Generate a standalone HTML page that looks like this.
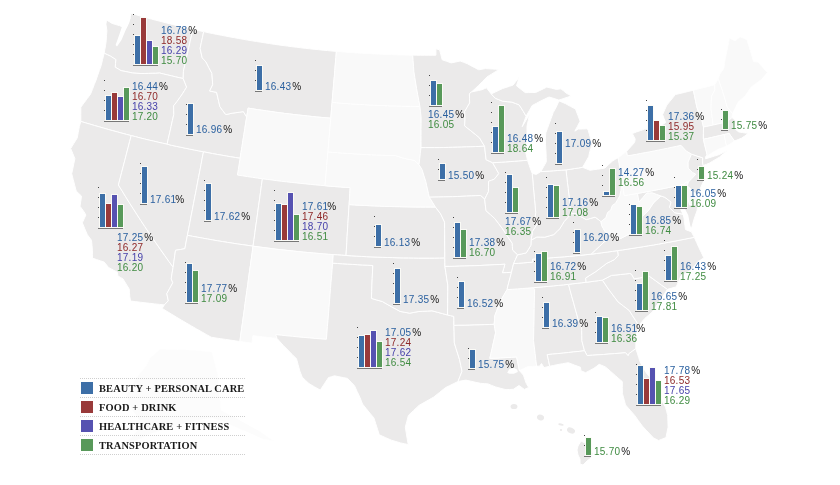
<!DOCTYPE html>
<html><head><meta charset="utf-8"><title>US map</title>
<style>
html,body{margin:0;padding:0;background:#fff;}
body{width:840px;height:485px;position:relative;overflow:hidden;}
svg{position:absolute;left:0;top:0;}
#map path{stroke:#ffffff;stroke-width:1.0;stroke-linejoin:round;}
#charts text{font-family:"Liberation Sans",Arial,sans-serif;font-size:10px;letter-spacing:0.25px;}
#charts .p{letter-spacing:0;font-size:10px;}
#charts text.lg{font-family:"Liberation Serif","Times New Roman",serif;font-weight:bold;font-size:10.4px;letter-spacing:0.15px;fill:#1a1a1a;}
</style></head><body>
<svg id="map" width="840" height="485" viewBox="0 0 840 485">
<path d="M150,358L160,349L195,350L212,352L218,375L221,410L240,420L258,430L274,441L262,439L244,431L226,423L212,418L195,421L172,427L150,434L128,445L112,452L132,437L142,424L132,410L126,395L136,378L146,366Z" fill="#fcfcfc"/>
<path d="M130.9,13.3L135,14.5L139.1,15.7L143.3,16.8L147.4,18L151.5,19.1L155.6,20.2L159.8,21.2L163.9,22.3L168,23.3L172.2,24.4L176.3,25.4L180.5,26.4L184.6,27.4L188.8,28.3L192.9,29.3L191.6,35.2L190.2,41.2L188.9,47.2L187.5,53.2L186.1,59.2L184.8,65.2L183.4,71.2L183.3,74.9L183.2,78.5L179.3,77.7L175.3,76.8L171.4,75.8L167.5,74.9L163.6,74L159.7,73L155.7,73.3L152.1,73.3L148.4,73.4L144.8,73.5L141.1,73.5L136.9,73.3L132.7,73L128.9,72.2L125,71.4L121.1,70.7L118.2,68.9L115.2,67.2L115.5,63.4L115.8,59.5L113.2,57.9L110.6,56.2L107.4,54.7L104.2,53.2L104.8,49.6L105.5,45.9L106.2,40.8L106.5,35.7L106.9,30.6L105.9,24.1L106.6,20L109.3,21.7L112.1,23.4L115.9,24.6L119.7,25.7L122.8,27.1L126,28.4L128.7,23.1L129.8,18.2L130.9,13.3Z" fill="#ebeaea"/>
<path d="M183.2,78.5L179.3,77.7L175.3,76.8L171.4,75.8L167.5,74.9L163.6,74L159.7,73L155.7,73.3L152.1,73.3L148.4,73.4L144.8,73.5L141.1,73.5L136.9,73.3L132.7,73L128.9,72.2L125,71.4L121.1,70.7L118.2,68.9L115.2,67.2L115.5,63.4L115.8,59.5L113.2,57.9L110.6,56.2L107.4,54.7L104.2,53.2L102.6,59.4L101.1,65.7L99.4,70.4L97.7,75.2L96.1,80L94.2,84.7L92.4,89.5L90.5,94.2L87.3,98.5L84,102.9L80.8,107.2L80.8,114.3L80.8,121.4L85.4,122.8L89.9,124.1L94.5,125.5L99.1,126.8L103.6,128.1L108.2,129.4L112.8,130.7L117.4,131.9L122,133.2L126.6,134.4L131.2,135.6L135.7,136.7L140.1,137.9L144.6,139L149.1,140.1L153.6,141.1L158.1,142.2L162.6,143.2L167.1,144.2L168.4,138.3L169.8,132.3L171.1,126.4L172.4,120.4L173.8,114.5L173.7,110.1L173.6,105.8L177.1,101.4L179.8,97.6L182.4,93.9L184.5,90.5L186.6,87.1L184.9,82.8L183.2,78.5Z" fill="#ebeaea"/>
<path d="M80.8,121.4L85.4,122.8L89.9,124.1L94.5,125.5L99.1,126.8L103.6,128.1L108.2,129.4L112.8,130.7L117.4,131.9L122,133.2L126.6,134.4L131.2,135.6L129.6,141.7L128,147.9L126.4,154.1L124.8,160.3L123.2,166.4L121.6,172.6L120,178.8L118.4,185L122.1,190.9L125.7,196.8L129.4,202.8L133.2,208.7L137,214.6L140.8,220.5L144.7,226.4L148.6,232.2L152.6,238.1L156.6,243.9L160.7,249.8L164.8,255.6L168.9,261.4L173.1,267.2L172.1,273.1L171.2,278.9L172.8,282.7L169.8,288.2L166.8,293.6L168.3,300.8L164.3,304.9L159.5,304.4L154.7,303.9L149.8,303.3L145,302.8L140.2,302.2L135.3,301.6L130.5,301L129.7,296.1L129.5,292.6L129.2,289L126.1,284L123,278.9L120.4,277.4L117.9,275.9L117.4,272.3L113,269.9L108.6,267.5L104.2,262.1L100.3,260.8L96.4,259.5L92.4,258.1L92.4,254.2L92.4,250.2L92,245.3L91.5,240.3L87.4,234.8L84.8,228.8L82.3,222.8L84.1,218.9L85.9,215L84,211.8L82,209L80,206.2L80.8,201.2L81.5,196.1L78.8,193.5L76.2,191L74.7,185.2L73.2,179.5L71.7,173.7L72.8,168.7L73.8,163.7L74.9,158.7L72.8,153.6L70.7,148.5L73.9,143.3L77.2,138L78.3,132.2L79.4,126.3L80.8,121.4Z" fill="#ebeaea"/>
<path d="M131.2,135.6L135.7,136.7L140.1,137.9L144.6,139L149.1,140.1L153.6,141.1L158.1,142.2L162.6,143.2L167.1,144.2L171.6,145.3L176.2,146.3L180.7,147.2L185.2,148.2L189.8,149.1L194.4,150L198.9,150.9L203.5,151.8L202.2,158.2L201,164.7L199.8,171.1L198.5,177.5L197.3,183.9L196.1,190.3L194.8,196.8L193.6,203.2L192.4,209.6L191.1,216L189.9,222.5L188.7,228.9L187.4,235.3L186.1,242L184.9,248.7L180.2,249.5L175.5,250.3L174.7,255.9L173.9,261.6L173.1,267.2L168.9,261.4L164.8,255.6L160.7,249.8L156.6,243.9L152.6,238.1L148.6,232.2L144.7,226.4L140.8,220.5L137,214.6L133.2,208.7L129.4,202.8L125.7,196.8L122.1,190.9L118.4,185L120,178.8L121.6,172.6L123.2,166.4L124.8,160.3L126.4,154.1L128,147.9L129.6,141.7L131.2,135.6Z" fill="#ebeaea"/>
<path d="M192.9,29.3L196.5,30.1L200.1,30.9L203.7,31.6L202.5,37.2L201.3,42.7L200.1,48.3L201.1,53L202.2,57.8L204.1,59.9L206,62L208.9,67.7L211.9,73.4L212.3,79.1L212.7,84.7L209.6,91L213.1,91.7L216.6,92.3L217.7,97.1L218.8,101.9L219.9,106.7L222.8,110.7L225.8,114.6L229,113.9L232.1,113.2L235.9,112.7L239.6,112.2L243.3,111.6L246.7,117L245.7,122.9L244.8,128.7L243.9,134.6L242.9,140.5L242,146.5L241,152.4L240.1,158.3L235.5,157.5L230.9,156.8L226.3,156L221.8,155.2L217.2,154.4L212.6,153.6L208,152.7L203.5,151.8L198.9,150.9L194.4,150L189.8,149.1L185.2,148.2L180.7,147.2L176.2,146.3L171.6,145.3L167.1,144.2L168.4,138.3L169.8,132.3L171.1,126.4L172.4,120.4L173.8,114.5L173.7,110.1L173.6,105.8L177.1,101.4L179.8,97.6L182.4,93.9L184.5,90.5L186.6,87.1L184.9,82.8L183.2,78.5L183.3,74.9L183.4,71.2L184.8,65.2L186.1,59.2L187.5,53.2L188.9,47.2L190.2,41.2L191.6,35.2L192.9,29.3Z" fill="#ebeaea"/>
<path d="M203.7,31.6L208,32.6L212.4,33.5L216.8,34.4L221.2,35.2L225.6,36.1L230,36.9L234.4,37.7L238.8,38.5L243.2,39.3L247.6,40.1L252,40.8L256.5,41.5L260.9,42.2L265.3,42.9L269.7,43.6L274.2,44.3L278.6,44.9L283,45.5L287.5,46.1L291.9,46.7L296.4,47.2L300.8,47.8L305.2,48.3L309.7,48.8L314.1,49.3L318.6,49.7L323.1,50.2L327.5,50.6L332,51L336.4,51.4L335.9,57.7L335.3,64.1L334.8,70.5L334.3,76.8L333.7,83.2L333.2,89.6L332.6,96L332.1,102.4L331.6,107.7L331.2,113L330.8,118.2L326.1,117.8L321.5,117.4L316.9,117L312.3,116.5L307.7,116L303.1,115.5L298.5,115L293.9,114.5L289.3,113.9L284.7,113.4L280.1,112.8L275.6,112.2L271,111.5L266.4,110.9L261.8,110.2L257.2,109.6L252.7,108.8L248.1,108.1L247.4,112.5L246.7,117L243.3,111.6L239.6,112.2L235.9,112.7L232.1,113.2L229,113.9L225.8,114.6L222.8,110.7L219.9,106.7L218.8,101.9L217.7,97.1L216.6,92.3L213.1,91.7L209.6,91L212.7,84.7L212.3,79.1L211.9,73.4L208.9,67.7L206,62L204.1,59.9L202.2,57.8L201.1,53L200.1,48.3L201.3,42.7L202.5,37.2L203.7,31.6Z" fill="#ebeaea"/>
<path d="M246.7,117L247.4,112.5L248.1,108.1L252.7,108.8L257.2,109.6L261.8,110.2L266.4,110.9L271,111.5L275.6,112.2L280.1,112.8L284.7,113.4L289.3,113.9L293.9,114.5L298.5,115L303.1,115.5L307.7,116L312.3,116.5L316.9,117L321.5,117.4L326.1,117.8L330.8,118.2L330.2,125L329.6,131.7L329,138.4L328.5,145.2L327.9,151.9L327.3,158.7L326.7,165.4L326.2,172.2L325.6,179L325,185.7L320.2,185.3L315.4,184.9L310.5,184.4L305.7,183.9L300.9,183.4L296.1,182.9L291.2,182.4L286.4,181.8L281.6,181.3L276.8,180.7L272,180L267.2,179.4L262.4,178.8L257.4,178.1L252.4,177.3L247.4,176.6L242.4,175.8L237.4,175L238.3,169.5L239.2,163.9L240.1,158.3L241,152.4L242,146.5L242.9,140.5L243.9,134.6L244.8,128.7L245.7,122.9L246.7,117Z" fill="#f9f9f9"/>
<path d="M240.1,158.3L235.5,157.5L230.9,156.8L226.3,156L221.8,155.2L217.2,154.4L212.6,153.6L208,152.7L203.5,151.8L202.2,158.2L201,164.7L199.8,171.1L198.5,177.5L197.3,183.9L196.1,190.3L194.8,196.8L193.6,203.2L192.4,209.6L191.1,216L189.9,222.5L188.7,228.9L187.4,235.3L192.5,236.3L197.5,237.2L202.5,238.1L207.6,239L212.6,239.9L217.6,240.8L222.7,241.6L227.7,242.4L232.8,243.2L237.9,244L242.9,244.7L248,245.4L253,246.2L254,239.4L254.9,232.7L255.8,225.9L256.8,219.2L257.7,212.4L258.6,205.7L259.6,199L260.5,192.2L261.4,185.5L262.4,178.8L257.4,178.1L252.4,177.3L247.4,176.6L242.4,175.8L237.4,175L238.3,169.5L239.2,163.9L240.1,158.3Z" fill="#ebeaea"/>
<path d="M325,185.7L320.2,185.3L315.4,184.9L310.5,184.4L305.7,183.9L300.9,183.4L296.1,182.9L291.2,182.4L286.4,181.8L281.6,181.3L276.8,180.7L272,180L267.2,179.4L262.4,178.8L261.4,185.5L260.5,192.2L259.6,199L258.6,205.7L257.7,212.4L256.8,219.2L255.8,225.9L254.9,232.7L254,239.4L253,246.2L258,246.8L263,247.5L268,248.1L273,248.8L278,249.4L283,249.9L288.1,250.5L293.1,251L298.1,251.6L303.1,252.1L308.1,252.5L313.1,253L318.1,253.4L323.2,253.9L328.2,254.3L333.2,254.6L337.5,254.9L341.7,255.2L346,255.5L346.4,249.2L346.8,242.8L347.1,236.4L347.5,230L347.9,223.7L348.3,217.3L348.7,210.9L349.1,204.6L349.5,198.9L349.8,193.3L350.2,187.6L345.1,187.3L340.1,186.9L335.1,186.6L330.1,186.2L325,185.7Z" fill="#ebeaea"/>
<path d="M187.4,235.3L192.5,236.3L197.5,237.2L202.5,238.1L207.6,239L212.6,239.9L217.6,240.8L222.7,241.6L227.7,242.4L232.8,243.2L237.9,244L242.9,244.7L248,245.4L253,246.2L252.2,252.5L251.3,258.9L250.4,265.3L249.5,271.6L248.6,278L247.8,284.4L246.9,290.7L246,297.1L245.1,303.4L244.3,309.8L243.4,316.1L242.5,322.5L241.6,328.8L240.7,335.2L239.9,341.5L235.1,340.8L230.3,340.1L225.5,339.4L220.8,338.7L216,338L211.2,337.2L206.2,334.4L201.3,331.6L196.3,328.8L191.4,325.9L186.5,323.1L181.6,320.2L176.7,317.3L171.8,314.3L167,311.4L162.2,308.4L164.3,304.9L168.3,300.8L166.8,293.6L169.8,288.2L172.8,282.7L171.2,278.9L172.1,273.1L173.1,267.2L173.9,261.6L174.7,255.9L175.5,250.3L180.2,249.5L184.9,248.7L186.1,242L187.4,235.3Z" fill="#ebeaea"/>
<path d="M253,246.2L258,246.8L263,247.5L268,248.1L273,248.8L278,249.4L283,249.9L288.1,250.5L293.1,251L298.1,251.6L303.1,252.1L308.1,252.5L313.1,253L318.1,253.4L323.2,253.9L328.2,254.3L333.2,254.6L332.9,258.9L332.6,263.1L332.1,269.5L331.6,275.8L331,282.2L330.5,288.5L330,294.9L329.5,301.2L329,307.6L328.5,313.9L328,320.3L327.4,326.6L326.9,333L326.4,339.3L320.8,338.9L315.1,338.4L309.5,337.9L303.9,337.4L298.2,336.9L292.6,336.3L287,335.8L281.3,335.2L275.7,334.6L277,338.4L272.2,337.9L267.4,337.3L262.5,336.8L257.7,336.2L252.9,335.6L252.4,339.3L252,343.1L247.9,342.6L243.9,342L239.9,341.5L240.7,335.2L241.6,328.8L242.5,322.5L243.4,316.1L244.3,309.8L245.1,303.4L246,297.1L246.9,290.7L247.8,284.4L248.6,278L249.5,271.6L250.4,265.3L251.3,258.9L252.2,252.5L253,246.2Z" fill="#f9f9f9"/>
<path d="M332.6,263.1L332.1,269.5L331.6,275.8L331,282.2L330.5,288.5L330,294.9L329.5,301.2L329,307.6L328.5,313.9L328,320.3L327.4,326.6L326.9,333L326.4,339.3L320.8,338.9L315.1,338.4L309.5,337.9L303.9,337.4L298.2,336.9L292.6,336.3L287,335.8L281.3,335.2L275.7,334.6L277,338.4L280.2,342L283.4,345.6L287.8,350L292.1,354.4L296.5,358.8L298.2,364.9L299.8,371L302.2,377.1L305.6,380.4L309,383.6L314.6,386.9L320.3,390.1L324.4,383.8L328.5,377.6L331.5,376.7L334.5,375.8L338.9,376.7L343.2,377.6L347.5,378.4L351,382.1L354.5,385.7L357.1,391.4L359.8,397.1L362.5,404L366.2,408.6L370,413.3L373.9,417.9L375.7,423.5L377.5,429.2L379.3,434.8L385.3,437.5L391.4,440.2L395.9,441.5L400.5,442.9L404.7,443.8L408.8,444.7L408.1,443.8L407.1,438.2L406.2,432.7L405.3,427.1L406.9,421.2L408.4,415.4L413.7,410.4L419,405.4L424,402.6L428.9,399.8L433.8,397L439.7,392.3L445.5,387.6L449.7,385.6L453.9,383.5L458,381.5L460,376.4L462,371.3L460.8,365.4L459.5,359.5L457.8,354L456,348.4L454.3,342.9L454.2,337.1L454.1,331.2L453.9,325.4L453.9,320.9L453.8,316.4L450.7,315.7L447.6,315L442.4,313.6L437.2,312.2L432,310.8L427.4,311.1L422.7,311.3L418.1,311.6L413.9,312.4L409.7,313.2L404.9,312.3L400,311.4L395.9,309.1L391.8,306.9L387,304.2L382.3,301.5L376.8,300L371.4,298.4L371.7,291.8L371.9,285.2L372.2,278.6L372.5,272L372.8,265.5L367.7,265.2L362.7,265L357.7,264.7L352.7,264.4L347.7,264.1L342.6,263.8L337.6,263.5L332.6,263.1Z" fill="#ebeaea"/>
<path d="M333.2,254.6L337.5,254.9L341.7,255.2L346,255.5L351.2,255.8L356.4,256.1L361.6,256.4L366.8,256.7L372,256.9L377.2,257.1L382.4,257.3L387.6,257.5L392.8,257.6L398,257.8L403.2,257.9L408.4,257.9L413.6,258L418.8,258.1L424,258.1L429.2,258.1L434.4,258.1L439.6,258L444.8,257.9L444.9,262.2L444.9,266.4L445.9,272.7L446.8,278.9L447.8,285.1L447.8,291.1L447.7,297.1L447.7,303.1L447.6,309L447.6,315L442.4,313.6L437.2,312.2L432,310.8L427.4,311.1L422.7,311.3L418.1,311.6L413.9,312.4L409.7,313.2L404.9,312.3L400,311.4L395.9,309.1L391.8,306.9L387,304.2L382.3,301.5L376.8,300L371.4,298.4L371.7,291.8L371.9,285.2L372.2,278.6L372.5,272L372.8,265.5L367.7,265.2L362.7,265L357.7,264.7L352.7,264.4L347.7,264.1L342.6,263.8L337.6,263.5L332.6,263.1L332.9,258.9L333.2,254.6Z" fill="#ebeaea"/>
<path d="M435.4,207L430.3,207L425.2,207L420.1,207L415.1,207L410,206.9L404.9,206.8L399.8,206.7L394.8,206.6L389.7,206.5L384.6,206.3L379.5,206.1L374.5,205.9L369.4,205.7L364.3,205.4L359.2,205.2L354.2,204.9L349.1,204.6L348.7,210.9L348.3,217.3L347.9,223.7L347.5,230L347.1,236.4L346.8,242.8L346.4,249.2L346,255.5L351.2,255.8L356.4,256.1L361.6,256.4L366.8,256.7L372,256.9L377.2,257.1L382.4,257.3L387.6,257.5L392.8,257.6L398,257.8L403.2,257.9L408.4,257.9L413.6,258L418.8,258.1L424,258.1L429.2,258.1L434.4,258.1L439.6,258L444.8,257.9L444.8,252L444.7,246L444.7,240.1L444.7,234.1L444.6,228.2L444.6,222.2L442.6,218L440.6,213.8L435.4,207Z" fill="#ebeaea"/>
<path d="M327.9,151.9L332.7,152.3L337.6,152.7L342.4,153.1L347.3,153.4L352.1,153.7L357,154L361.8,154.3L366.7,154.6L371.5,154.8L376.4,155L381.2,155.2L386.1,155.4L390.9,155.6L395.8,155.7L400.1,157.1L404.3,158.4L409.2,159.4L414.1,160.3L416.6,162.4L419,164.6L422.1,169.7L423.9,175.6L425.8,181.5L426.7,185.8L427.7,190L428.5,193.6L429.3,197.2L432.4,202.1L435.4,207L430.3,207L425.2,207L420.1,207L415.1,207L410,206.9L404.9,206.8L399.8,206.7L394.8,206.6L389.7,206.5L384.6,206.3L379.5,206.1L374.5,205.9L369.4,205.7L364.3,205.4L359.2,205.2L354.2,204.9L349.1,204.6L349.5,198.9L349.8,193.3L350.2,187.6L345.1,187.3L340.1,186.9L335.1,186.6L330.1,186.2L325,185.7L325.6,179L326.2,172.2L326.7,165.4L327.3,158.7L327.9,151.9Z" fill="#f9f9f9"/>
<path d="M332.1,102.4L336.7,102.8L341.3,103.2L345.9,103.5L350.5,103.9L355.2,104.2L359.8,104.4L364.4,104.7L369,105L373.6,105.2L378.2,105.4L382.9,105.6L387.5,105.8L392.1,105.9L396.7,106L401.4,106.2L406,106.3L410.6,106.3L415.2,106.4L419.9,106.4L420.5,111.8L421.1,117.2L421.1,123.3L421,129.4L421,135.4L421,141.5L421,147.6L420.3,153.3L419.7,158.9L419,164.6L416.6,162.4L414.1,160.3L409.2,159.4L404.3,158.4L400.1,157.1L395.8,155.7L390.9,155.6L386.1,155.4L381.2,155.2L376.4,155L371.5,154.8L366.7,154.6L361.8,154.3L357,154L352.1,153.7L347.3,153.4L342.4,153.1L337.6,152.7L332.7,152.3L327.9,151.9L328.5,145.2L329,138.4L329.6,131.7L330.2,125L330.8,118.2L331.2,113L331.6,107.7L332.1,102.4Z" fill="#f9f9f9"/>
<path d="M336.4,51.4L340.7,51.7L344.9,52.1L349.1,52.4L353.3,52.7L357.6,53L361.8,53.2L366,53.5L370.3,53.7L374.5,53.9L378.7,54.1L383,54.3L387.2,54.5L391.5,54.6L395.7,54.8L399.9,54.9L404.2,55L408.4,55.1L412.7,55.1L413.1,60.7L413.5,66.2L413.9,71.8L414.8,77.4L415.7,83L416.6,88.6L417.7,94.5L418.8,100.5L419.9,106.4L415.2,106.4L410.6,106.3L406,106.3L401.4,106.2L396.7,106L392.1,105.9L387.5,105.8L382.9,105.6L378.2,105.4L373.6,105.2L369,105L364.4,104.7L359.8,104.4L355.2,104.2L350.5,103.9L345.9,103.5L341.3,103.2L336.7,102.8L332.1,102.4L332.6,96L333.2,89.6L333.7,83.2L334.3,76.8L334.8,70.5L335.3,64.1L335.9,57.7L336.4,51.4Z" fill="#f9f9f9"/>
<path d="M412.7,55.1L416.5,55.2L420.4,55.2L424.3,55.2L428.2,55.2L432.1,55.2L435.9,55.2L435.9,48.8L439.6,49.8L440.9,54.8L442.2,59.8L446.7,61.3L451.2,62.9L455.7,62L460.2,61L463.6,62.3L467.1,63.6L470.9,65.7L474.8,67.7L478.7,69.8L482,69.2L485.4,68.6L488.9,68.8L492.3,69L495.7,69.2L499.1,69.4L495.1,71.9L491.1,74.4L487,76.9L482.7,81.3L478.3,85.7L475,88.8L471.6,91.9L469.4,93.7L469.5,98.3L469.7,102.9L467.2,107.2L464.7,111.5L464.9,115.7L465,119.9L464.6,125.9L467.7,128.3L470.8,130.7L475.2,134.3L479.6,137.9L482,142.1L484.6,146.2L480,146.4L475.5,146.6L470.9,146.8L466.4,146.9L461.9,147.1L457.3,147.2L452.8,147.3L448.2,147.4L443.7,147.5L439.1,147.6L434.6,147.6L430,147.6L425.5,147.6L421,147.6L421,141.5L421,135.4L421,129.4L421.1,123.3L421.1,117.2L420.5,111.8L419.9,106.4L418.8,100.5L417.7,94.5L416.6,88.6L415.7,83L414.8,77.4L413.9,71.8L413.5,66.2L413.1,60.7L412.7,55.1Z" fill="#ebeaea"/>
<path d="M484.6,146.2L480,146.4L475.5,146.6L470.9,146.8L466.4,146.9L461.9,147.1L457.3,147.2L452.8,147.3L448.2,147.4L443.7,147.5L439.1,147.6L434.6,147.6L430,147.6L425.5,147.6L421,147.6L420.3,153.3L419.7,158.9L419,164.6L422.1,169.7L423.9,175.6L425.8,181.5L426.7,185.8L427.7,190L428.5,193.6L429.3,197.2L434,197.1L438.7,197L443.3,196.9L448,196.8L452.6,196.7L457.3,196.5L462,196.3L466.6,196.1L471.3,195.9L475.9,195.7L480.6,195.5L484.7,199.2L486.5,195.5L488.4,191.8L488.5,186.6L488.6,181.3L491.4,180.3L494.2,179.3L498.8,173.6L495.7,168.1L492.6,162.7L489.3,161.2L486.1,159.7L485.3,152.9L484.6,146.2Z" fill="#ebeaea"/>
<path d="M429.3,197.2L434,197.1L438.7,197L443.3,196.9L448,196.8L452.6,196.7L457.3,196.5L462,196.3L466.6,196.1L471.3,195.9L475.9,195.7L480.6,195.5L484.7,199.2L485.3,204.9L486,210.7L490.5,214.7L494.9,218.7L498.5,223.4L502,228L505.4,233.1L508.8,238.2L512.2,243.2L512.4,246.6L512.6,250L517.6,254.8L515.6,259.2L513.6,263.6L512.5,267.9L511.5,272.3L506.9,272.6L502.4,272.8L503.7,268.5L504.9,264.2L499.9,264.5L494.9,264.7L489.9,265L484.9,265.2L479.9,265.5L474.9,265.7L469.9,265.8L464.9,266L459.9,266.1L454.9,266.3L449.9,266.4L444.9,266.4L444.9,262.2L444.8,257.9L444.8,252L444.7,246L444.7,240.1L444.7,234.1L444.6,228.2L444.6,222.2L442.6,218L440.6,213.8L435.4,207L432.4,202.1L429.3,197.2Z" fill="#ebeaea"/>
<path d="M511.5,272.3L506.9,272.6L502.4,272.8L503.7,268.5L504.9,264.2L499.9,264.5L494.9,264.7L489.9,265L484.9,265.2L479.9,265.5L474.9,265.7L469.9,265.8L464.9,266L459.9,266.1L454.9,266.3L449.9,266.4L444.9,266.4L445.9,272.7L446.8,278.9L447.8,285.1L447.8,291.1L447.7,297.1L447.7,303.1L447.6,309L447.6,315L450.7,315.7L453.8,316.4L453.9,320.9L453.9,325.4L459,325.3L464,325.3L469.1,325.2L474.1,325L479.1,324.9L484.2,324.7L489.2,324.5L494.2,324.3L494.5,320.1L494.8,315.8L496.8,310.6L498.9,305.4L500.9,300.2L504,294.9L507.1,289.6L507.6,287L508.9,282.1L510.2,277.2L511.5,272.3Z" fill="#ebeaea"/>
<path d="M494.2,324.3L489.2,324.5L484.2,324.7L479.1,324.9L474.1,325L469.1,325.2L464,325.3L459,325.3L453.9,325.4L454.1,331.2L454.2,337.1L454.3,342.9L456,348.4L457.8,354L459.5,359.5L460.8,365.4L462,371.3L460,376.4L458,381.5L462,380.8L465.9,380.1L470.8,381.2L475.7,382.3L480.6,383.3L484.3,383.6L488,383.9L491.7,385.4L495.5,386.9L500.7,388.3L506,389.7L509.6,389.5L513.3,389.3L519,385.5L524.4,389.4L528.7,387.4L526.2,383.3L524.8,379.2L523.4,375.1L519.4,370.6L518.5,366.1L517.6,361.5L516.6,356.9L511.3,357.3L505.9,357.6L500.5,357.9L495.1,358.2L489.8,358.4L491,353.3L492.2,348.2L493.3,343L494.5,337.9L495.6,332.7L494.9,328.5L494.2,324.3Z" fill="#ebeaea"/>
<path d="M507.1,289.6L512.3,289.3L517.5,288.9L522.7,288.5L527.9,288.1L533.1,287.7L534.6,289.3L534.5,295.7L534.3,302.1L534.2,308.5L534.1,314.9L534,321.3L533.8,327.7L533.7,334.1L533.5,340.4L534.3,346.9L535.1,353.3L535.8,359.7L536.6,366.1L532.3,366.4L527.9,366.6L523.7,368.6L519.4,370.6L518.5,366.1L517.6,361.5L516.6,356.9L511.3,357.3L505.9,357.6L500.5,357.9L495.1,358.2L489.8,358.4L491,353.3L492.2,348.2L493.3,343L494.5,337.9L495.6,332.7L494.9,328.5L494.2,324.3L494.5,320.1L494.8,315.8L496.8,310.6L498.9,305.4L500.9,300.2L504,294.9L507.1,289.6Z" fill="#f9f9f9"/>
<path d="M533.1,287.7L538.1,287.3L543.2,286.8L548.3,286.4L553.3,285.9L558.4,285.4L563.4,284.9L568.5,284.3L570.1,290.3L571.7,296.2L573.4,302.1L575,308.1L576.7,314L578.3,319.9L581.5,325.5L581.7,330.6L581.8,335.7L581.9,340.8L583.2,345.8L584.5,350.7L579.2,351.4L573.8,351.9L568.5,352.5L563.2,353.1L557.9,353.6L552.6,354.1L547.2,354.6L548.5,360.4L549.7,366.2L546.9,366.9L544,367.6L541.5,363.5L539.5,366.2L536.6,366.1L535.8,359.7L535.1,353.3L534.3,346.9L533.5,340.4L533.7,334.1L533.8,327.7L534,321.3L534.1,314.9L534.2,308.5L534.3,302.1L534.5,295.7L534.6,289.3L533.1,287.7Z" fill="#ebeaea"/>
<path d="M585.9,282.3L581.5,282.8L577.2,283.3L572.8,283.8L568.5,284.3L570.1,290.3L571.7,296.2L573.4,302.1L575,308.1L576.7,314L578.3,319.9L581.5,325.5L581.7,330.6L581.8,335.7L581.9,340.8L583.2,345.8L584.5,350.7L587.1,355.5L592.6,355.2L598,354.8L603.5,354.5L609,354L614.5,353.6L620,353.2L625.5,352.7L628.1,355.7L629.3,353.3L632.6,351L635.8,348.6L635.9,341.9L636,335.2L637.4,330.3L638.7,325.4L635.6,320.4L632.4,315.5L629.3,310.5L623.7,306.2L618.1,301.9L614.6,297.3L611.1,292.6L607.7,288L605.1,284.1L602.4,280.1L598.3,280.7L594.2,281.2L590,281.8L585.9,282.3Z" fill="#ebeaea"/>
<path d="M584.5,350.7L579.2,351.4L573.8,351.9L568.5,352.5L563.2,353.1L557.9,353.6L552.6,354.1L547.2,354.6L548.5,360.4L549.7,366.2L553.3,365.5L556.9,364.7L562.6,363.7L568.3,362.7L574.4,365L580.5,367.3L580.9,370.7L585.6,372.7L589.7,370.5L593.9,368.3L596.6,366.3L599.2,364.3L605.4,366.9L610.5,371.3L615.5,375.7L618.9,378.7L622.3,381.6L622.3,387.5L622.4,393.5L624,399.2L625.5,404.9L630.1,410.2L634.7,415.4L638.5,420.8L642.4,426.1L646.1,430.1L649.8,434L653.5,437.9L658.6,440.5L662.3,439L666,437.6L667,432.3L668.1,427.1L667.9,421.2L667.7,415.3L666.6,411.2L665.5,407.2L662.6,402L659.7,396.8L656.8,391.6L655.3,386.8L653.7,381.9L650,377.4L646.3,372.9L643.2,367.4L640.1,361.9L638.7,357.5L637.3,353L635.8,348.6L632.6,351L629.3,353.3L628.1,355.7L625.5,352.7L620,353.2L614.5,353.6L609,354L603.5,354.5L598,354.8L592.6,355.2L587.1,355.5L584.5,350.7Z" fill="#ebeaea"/>
<path d="M638.7,325.4L635.6,320.4L632.4,315.5L629.3,310.5L623.7,306.2L618.1,301.9L614.6,297.3L611.1,292.6L607.7,288L605.1,284.1L602.4,280.1L606.9,277.8L611.4,275.4L616,275L620.6,274.5L625.2,274L629.8,273.5L631.5,274.1L634.1,278.8L639.2,278L644.3,277.2L649.4,276.3L655.4,280.6L661.4,285L667.4,289.3L663.9,294.8L660.2,300.2L656.3,306.1L652.3,312L648.6,315.2L644.8,318.4L641.8,321.9L638.7,325.4Z" fill="#ebeaea"/>
<path d="M602.4,280.1L598.3,280.7L594.2,281.2L590,281.8L585.9,282.3L585.6,278L590.7,274.8L595.8,271.6L599.5,268.8L603.2,266L606.9,263.2L610.8,261.4L614.6,259.5L618.1,255.5L617.6,250.6L622.8,249.9L627.9,249.1L633,248.3L638.1,247.5L643.3,246.7L648.4,245.8L653.5,245L658.6,244.1L663.7,243.2L668.8,242.2L674,241.3L679.1,240.3L684.2,239.3L689.2,238.3L694.3,237.3L696.6,242.4L698.9,247.6L701.4,252.7L703.9,257.8L700.9,259.8L697.8,261.7L694.5,265.9L691.1,270.1L687.8,271.9L684.4,273.8L681,275.6L678.6,281.3L676.2,286.9L671.8,288.1L667.4,289.3L661.4,285L655.4,280.6L649.4,276.3L644.3,277.2L639.2,278L634.1,278.8L631.5,274.1L629.8,273.5L625.2,274L620.6,274.5L616,275L611.4,275.4L606.9,277.8L602.4,280.1Z" fill="#ebeaea"/>
<path d="M513.6,263.6L518.4,263.3L523.1,262.9L527.9,262.5L532.7,262.1L532.5,259.1L537.8,258.8L543.1,258.4L548.5,258L553.8,257.6L559.2,257.2L564.5,256.8L569.8,256.3L575.2,255.8L580.5,255.3L585.9,254.7L591.2,254.2L596.5,253.5L601.8,252.8L607.1,252.1L612.3,251.4L617.6,250.6L618.1,255.5L614.6,259.5L610.8,261.4L606.9,263.2L603.2,266L599.5,268.8L595.8,271.6L590.7,274.8L585.6,278L585.9,282.3L581.5,282.8L577.2,283.3L572.8,283.8L568.5,284.3L563.4,284.9L558.4,285.4L553.3,285.9L548.3,286.4L543.2,286.8L538.1,287.3L533.1,287.7L527.9,288.1L522.7,288.5L517.5,288.9L512.3,289.3L507.1,289.6L507.6,287L508.9,282.1L510.2,277.2L511.5,272.3L512.5,267.9L513.6,263.6Z" fill="#ebeaea"/>
<path d="M513.6,263.6L518.4,263.3L523.1,262.9L527.9,262.5L532.7,262.1L532.5,259.1L537.8,258.8L543.1,258.4L548.5,258L553.8,257.6L559.2,257.2L564.5,256.8L569.8,256.3L575.2,255.8L580.5,255.3L585.9,254.7L591.2,254.2L595.5,250.2L599.7,246.2L604,242.1L607.7,239.9L611.8,235.8L608.4,233.8L605.1,231.7L603.3,228.5L601.6,225.3L601,221.6L598.1,219.3L595.1,217.1L590.7,218.4L586.3,219.6L580.6,216.5L575,213.3L571.2,213.8L567.7,217.6L564.2,221.5L562,225.1L559.7,228.8L556.8,231.7L553.8,234.6L549.3,235.9L544.8,237.2L540.8,237.1L536.8,237L534,238.6L531.1,240.1L530.9,245.2L528.6,249.1L526.2,252.9L521.9,253.9L517.6,254.8L515.6,259.2L513.6,263.6Z" fill="#ebeaea"/>
<path d="M591.2,254.2L596.5,253.5L601.8,252.8L607.1,252.1L612.3,251.4L617.6,250.6L622.8,249.9L627.9,249.1L633,248.3L638.1,247.5L643.3,246.7L648.4,245.8L653.5,245L658.6,244.1L663.7,243.2L668.8,242.2L674,241.3L679.1,240.3L684.2,239.3L689.2,238.3L694.3,237.3L691.4,231.8L688.4,230.7L685.5,229.6L684.9,225.3L684.4,221.1L683.6,214.3L679.1,213.5L674.6,212.7L669.5,207.6L671.1,202.1L668,199.7L664.8,197.3L661,196L656.7,199.7L653.4,203L650.8,206.9L648.2,210.8L643.7,215.1L640.9,218.2L638.1,221.3L635.7,226.4L633.2,231.6L630.1,233.4L627.1,235.2L623.3,237.1L619.6,239L615.7,237.4L611.8,235.8L607.7,239.9L604,242.1L599.7,246.2L595.5,250.2L591.2,254.2Z" fill="#ebeaea"/>
<path d="M611.8,235.8L608.4,233.8L605.1,231.7L603.3,228.5L601.6,225.3L601,221.6L605.8,217.8L607.6,212.4L610.6,210.2L612.4,205.3L615.4,203.4L617.6,199.7L619.8,195.9L620.9,190.4L621.5,184.4L621.8,180.2L622.6,185.4L623.5,190.5L624.3,195.6L628.7,194.9L633.1,194.2L637.5,193.4L638.3,197.8L639,202.1L642.9,197.5L646.8,192.9L649.5,192.9L652.2,192.8L656.6,194.4L661,196L656.7,199.7L653.4,203L650.8,206.9L648.2,210.8L643.7,215.1L640.9,218.2L638.1,221.3L635.7,226.4L633.2,231.6L630.1,233.4L627.1,235.2L623.3,237.1L619.6,239L615.7,237.4L611.8,235.8Z" fill="#f9f9f9"/>
<path d="M661,196L664.8,197.3L668,199.7L671.1,202.1L669.5,207.6L674.6,212.7L679.1,213.5L683.6,214.3L686.6,220.6L689.7,226.9L691.8,227.4L692.9,223.2L694.1,219L695.5,215L697,210.9L697.5,207.1L698,203.4L693.8,204.2L689.7,205L688.3,199.8L686.8,194.7L685.4,189.5L684,184.3L679.4,185.3L674.7,186.3L670.1,187.2L665.4,188.2L660.8,189.1L656.1,190L651.5,190.9L646.8,191.7L642.2,192.6L637.5,193.4L638.3,197.8L639,202.1L642.9,197.5L646.8,192.9L649.5,192.9L652.2,192.8L656.6,194.4L661,196Z" fill="#ebeaea"/>
<path d="M684,184.3L685.4,189.5L686.8,194.7L688.3,199.8L689.7,205L693.8,204.2L698,203.4L697.2,196.6L694.1,193.3L691.1,190.1L687.4,185.7L688.4,182L686,182L684,184.3Z" fill="#f9f9f9"/>
<path d="M618.1,157.8L619,163.4L620,169L620.9,174.6L621.8,180.2L622.6,185.4L623.5,190.5L624.3,195.6L628.7,194.9L633.1,194.2L637.5,193.4L642.2,192.6L646.8,191.7L651.5,190.9L656.1,190L660.8,189.1L665.4,188.2L670.1,187.2L674.7,186.3L679.4,185.3L684,184.3L686,182L688.4,182L691.8,178.6L695.8,174.2L692.4,172.4L688.2,168.1L688.1,162L689.8,158.1L691.5,154.1L686.3,151.1L681,145.3L676.6,146.3L672.1,147.2L667.7,148.2L663.2,149.1L658.7,150L654.3,150.9L649.8,151.8L645.3,152.6L640.8,153.4L636.4,154.3L631.9,155.1L627.4,155.8L626.6,151.3L622.4,154.6L618.1,157.8Z" fill="#f9f9f9"/>
<path d="M688.4,182L691.8,178.6L695.8,174.2L692.4,172.4L688.2,168.1L688.1,162L689.8,158.1L691.5,154.1L697.1,156L702.7,157.8L702.6,163L703.6,167.2L704.2,172.7L704.9,178.2L702.7,183.1L700.5,188L697.5,195.1L697.2,196.6L694.1,193.3L691.1,190.1L687.4,185.7L688.4,182Z" fill="#ebeaea"/>
<path d="M691.5,154.1L686.3,151.1L681,145.3L676.6,146.3L672.1,147.2L667.7,148.2L663.2,149.1L658.7,150L654.3,150.9L649.8,151.8L645.3,152.6L640.8,153.4L636.4,154.3L631.9,155.1L627.4,155.8L626.6,151.3L630.6,146.9L634.6,142.5L635.2,139L632.3,133.5L636.4,132L640.5,130.6L644.5,129.1L648.6,128.8L652.7,128.6L656.8,128.3L661.2,125.5L665.6,122.6L664.1,118.6L662.6,114.6L664.7,109.8L666.8,105.1L669.7,101.6L672.6,98L675.4,94.5L679.9,93.5L684.4,92.4L688.9,91.3L693.4,90.2L694.5,95.7L695.7,101.3L696.8,106.9L699,113.3L700.3,113.5L701.4,118L702.4,122.5L703.5,127L703.4,133.2L703.4,139.3L704.6,144.5L705.9,149.7L707.2,155L705.7,157L705.5,158.8L709.9,157.5L714.4,156.1L718.8,154.7L723.1,152.6L727.3,150.4L723.4,153.8L719.4,157.2L716,159.2L712.6,161.2L709.2,163.2L706.2,164.4L703.2,165.5L702.6,163L702.7,157.8L697.1,156L691.5,154.1Z" fill="#ebeaea"/>
<path d="M693.4,90.2L697.6,89.1L701.9,88L706.2,87L710.4,85.9L714.7,84.7L714.9,90.1L713.2,93.2L711.5,96.2L711.4,98L711.2,103.3L711,108.6L711.6,113.7L712.3,118.7L713.2,125L710,125.7L706.7,126.4L703.5,127L702.4,122.5L701.4,118L700.3,113.5L699,113.3L696.8,106.9L695.7,101.3L694.5,95.7L693.4,90.2Z" fill="#f9f9f9"/>
<path d="M714.7,84.7L716.5,81.7L718.3,78.7L720.5,85.1L722.7,91.5L724.3,96.9L725.9,102.3L727.4,107.8L730.3,110.5L732.5,113.8L732,117.6L729.5,119.7L727,121.9L722.4,122.9L717.8,124L713.2,125L712.3,118.7L711.6,113.7L711,108.6L711.2,103.3L711.4,98L711.5,96.2L713.2,93.2L714.9,90.1L714.7,84.7Z" fill="#f9f9f9"/>
<path d="M718.3,78.7L719.8,74L721.8,71.2L723.8,68.5L724.5,63.5L725.3,58.5L726.4,52.9L727.6,47.4L728.5,42.7L729.4,38.1L732.3,39.5L735.2,40.8L737.6,38.8L740,36.7L743.5,38.2L746.9,39.6L748.6,45.1L750.3,50.6L752,56.1L753.6,61.6L758.1,62L762.9,67.5L767.5,72.3L764.6,75.9L761.6,79.4L758.2,81.9L754.8,84.4L751.3,86.9L748.2,91.4L745.1,95.8L741.6,99L738.1,102.2L735.3,108L732.5,113.8L730.3,110.5L727.4,107.8L725.9,102.3L724.3,96.9L722.7,91.5L720.5,85.1L718.3,78.7Z" fill="#f9f9f9"/>
<path d="M732,117.6L729.5,119.7L727,121.9L722.4,122.9L717.8,124L713.2,125L710,125.7L706.7,126.4L703.5,127L703.4,133.2L703.4,139.3L707.5,138.4L711.6,137.5L715.8,136.5L719.9,135.6L724,134.6L726.5,134L729,133.3L731.7,137.2L734.5,141L738.1,139.6L741.7,138.1L744.7,136L747.7,133.8L744.9,128.5L746.8,133.2L742.8,132.6L738.7,131.9L733,127.3L735.6,120.5L732,117.6Z" fill="#ebeaea"/>
<path d="M734.5,141L731.7,137.2L729,133.3L726.5,134L724,134.6L725.2,140.5L726.4,146.3L730.3,143.9L734.5,141Z" fill="#f9f9f9"/>
<path d="M724,134.6L719.9,135.6L715.8,136.5L711.6,137.5L707.5,138.4L703.4,139.3L704.6,144.5L705.9,149.7L707.2,155L705.7,157L708.8,155L711.9,152.9L715.3,151L718.7,149.1L722.5,147.7L726.4,146.3L725.2,140.5L724,134.6Z" fill="#f9f9f9"/>
<path d="M566,169.9L570.1,169.3L574.3,168.6L578.5,168L582.6,167.3L586.3,168.8L590,170.3L593.7,169.7L597.4,169.2L601.1,168.7L604.8,168.1L608.7,164.5L612.6,160.9L615.3,159.3L618.1,157.8L619,163.4L620,169L620.9,174.6L621.8,180.2L621.5,184.4L620.9,190.4L619.8,195.9L617.6,199.7L615.4,203.4L612.4,205.3L610.6,210.2L607.6,212.4L605.8,217.8L601,221.6L598.1,219.3L595.1,217.1L590.7,218.4L586.3,219.6L580.6,216.5L575,213.3L571.2,213.8L570.4,207.5L569.7,201.3L568.9,195L568.2,188.7L567.4,182.4L566.7,176.2L566,169.9Z" fill="#ebeaea"/>
<path d="M532.2,173.4L536.3,174.4L540.8,171.6L545,171.4L549.2,171.1L553.4,170.8L557.6,170.5L561.8,170.2L566,169.9L566.7,176.2L567.4,182.4L568.2,188.7L568.9,195L569.7,201.3L570.4,207.5L571.2,213.8L567.7,217.6L564.2,221.5L562,225.1L559.7,228.8L556.8,231.7L553.8,234.6L549.3,235.9L544.8,237.2L540.8,237.1L536.8,237L534,238.6L531.1,240.1L531.8,235.8L532.4,231.4L534.7,227.8L537,224.2L535.1,217.5L535.7,212.4L535.1,205.9L534.5,199.4L533.9,192.9L533.3,186.4L532.8,179.9L532.2,173.4Z" fill="#ebeaea"/>
<path d="M527.5,160.2L523.2,160.6L518.8,160.9L514.4,161.3L510.1,161.6L505.7,161.9L501.3,162.2L496.9,162.5L492.6,162.7L495.7,168.1L498.8,173.6L494.2,179.3L491.4,180.3L488.6,181.3L488.5,186.6L488.4,191.8L486.5,195.5L484.7,199.2L485.3,204.9L486,210.7L490.5,214.7L494.9,218.7L498.5,223.4L502,228L505.4,233.1L508.8,238.2L512.2,243.2L512.4,246.6L512.6,250L517.6,254.8L521.9,253.9L526.2,252.9L528.6,249.1L530.9,245.2L531.1,240.1L531.8,235.8L532.4,231.4L534.7,227.8L537,224.2L535.1,217.5L535.7,212.4L535.1,205.9L534.5,199.4L533.9,192.9L533.3,186.4L532.8,179.9L532.2,173.4L530.9,170.1L529.2,165.2L527.5,160.2Z" fill="#ebeaea"/>
<path d="M471.6,91.9L475.1,91.2L478.5,90.5L482,89.7L484.2,88.8L486.5,87.8L491.2,93.9L495.2,98.2L498.8,99.7L502.4,101.1L507.2,101.7L511.9,102.1L515.6,103.5L519.2,104.9L523.3,111.4L526.1,116.2L524.2,121.4L522.2,126.7L525.9,120.4L529.5,114.2L528.3,120.2L527,126.3L527,133.1L527,139.9L526.3,145.9L525.6,151.9L526.6,156L527.5,160.2L523.2,160.6L518.8,160.9L514.4,161.3L510.1,161.6L505.7,161.9L501.3,162.2L496.9,162.5L492.6,162.7L489.3,161.2L486.1,159.7L485.3,152.9L484.6,146.2L482,142.1L479.6,137.9L475.2,134.3L470.8,130.7L467.7,128.3L464.6,125.9L465,119.9L464.9,115.7L464.7,111.5L467.2,107.2L469.7,102.9L469.5,98.3L469.4,93.7L471.6,91.9Z" fill="#ebeaea"/>
<path d="M540.8,171.6L545,171.4L549.2,171.1L553.4,170.8L557.6,170.5L561.8,170.2L566,169.9L570.1,169.3L574.3,168.6L578.5,168L582.6,167.3L585.7,162L588.7,156.7L589.8,151.4L592.3,144.2L590.8,139.3L589.4,134.4L588,129.5L586.6,128.8L582.4,129L578.2,129.1L574.8,131.2L577.5,126.2L580.1,121.2L577.8,115.1L575.5,109L570.3,106.3L565.2,103.5L562.1,102.2L559,100.9L556.2,107.2L553.2,112.6L551.1,118.4L549,124.1L547.4,128.5L545.8,132.9L545.3,139.8L545.5,144.3L545.8,148.8L546.1,153.3L546.2,157.6L546.3,161.8L543.6,166.7L540.8,171.6Z" fill="#ebeaea"/>
<path d="M491.2,93.9L495.1,92.1L498.9,90.3L502.7,88.5L506.1,87.4L509.5,86.3L512.9,85.2L516.1,81.2L519.2,77.1L517.8,81.4L516.5,85.8L520.8,89.2L525.2,92.6L528.7,92.6L532.2,92.5L535.7,92.5L539.4,90.7L543.1,88.9L546.8,87.1L551.6,88.2L556.4,89.4L561,88.8L563.7,91L566.3,93.2L568.8,94.6L571.4,96L567.2,97.3L563.1,98.7L558.9,100.1L554,98.5L549.1,97L544.6,99.1L540.1,101.3L536.2,103.4L532.2,105.5L529.2,110.8L526.1,116.2L523.3,111.4L519.2,104.9L515.6,103.5L511.9,102.1L507.2,101.7L502.4,101.1L498.8,99.7L495.2,98.2L491.2,93.9Z" fill="#ebeaea"/>
<ellipse cx="514" cy="406.5" rx="3.4" ry="2.6" transform="rotate(0 514 406.5)" fill="#ebeaea"/>
<ellipse cx="540.5" cy="417.5" rx="3.6" ry="2.8" transform="rotate(20 540.5 417.5)" fill="#ebeaea"/>
<ellipse cx="561" cy="424.5" rx="2.8" ry="1.1" transform="rotate(10 561 424.5)" fill="#ebeaea"/>
<ellipse cx="561" cy="430" rx="1.2" ry="1.0" transform="rotate(0 561 430)" fill="#ebeaea"/>
<ellipse cx="571" cy="430.5" rx="4.2" ry="2.8" transform="rotate(25 571 430.5)" fill="#ebeaea"/>
<path d="M581,441L585,443L588,446L592,450L593,454L591,458L587,461L583,465L580,464L580,459L578,455L577,450L578,446Z" fill="#ebeaea"/>
<path d="M124.9,16.2L131,17.5L127,27L121.5,40L117,46.5L115.6,45L119.5,34L122.5,25Z" fill="#fff" style="stroke:none"/>
<path d="M691.2,231.0L686.9,230.1L685.4,222.6L682.6,214.5L679.7,208.2L678.6,199.7L679.1,192.7L680.7,188.0L682.2,190.3L681.7,199.1L684.1,207.2L688.2,215.1L690.2,225.1Z" fill="#fff" style="stroke:none"/>
<path d="M688.6,188.0L692.2,192.4L696.7,197.5L697.4,194.8L693.3,191.3L689.1,187.0Z" fill="#fff" style="stroke:none"/>
<path d="M507.2,372.7L509.2,369.2L513.4,367.8L517.2,369.6L517.8,372.1L513.8,373.7L509.4,373.8Z" fill="#fff" style="stroke:none"/>
</svg>
<svg id="charts" width="840" height="485" viewBox="0 0 840 485" style="will-change:transform">
<rect x="134" y="35.00" width="7" height="30.00" fill="#fdfdf8" fill-opacity="0.85"/>
<rect x="140" y="17.00" width="7" height="48.00" fill="#fdfdf8" fill-opacity="0.85"/>
<rect x="146" y="40.00" width="7" height="25.00" fill="#fdfdf8" fill-opacity="0.85"/>
<rect x="152" y="46.00" width="7" height="19.00" fill="#fdfdf8" fill-opacity="0.85"/>
<rect x="135" y="36.00" width="5" height="28.00" fill="#3d6fa7"/>
<rect x="141" y="18.00" width="5" height="46.00" fill="#993a3a"/>
<rect x="147" y="41.00" width="5" height="23.00" fill="#5652b1"/>
<rect x="153" y="47.00" width="5" height="17.00" fill="#58995a"/>
<rect x="133" y="65" width="25" height="1" fill="#777"/>
<rect x="133" y="54" width="1" height="1" fill="#444"/>
<rect x="133" y="44" width="1" height="1" fill="#444"/>
<rect x="133" y="34" width="1" height="1" fill="#444"/>
<rect x="133" y="24" width="1" height="1" fill="#444"/>
<rect x="133" y="14" width="1" height="1" fill="#444"/>
<text x="161" y="34.0" fill="#2a609f">16.78<tspan fill="#151515" dx="0.9" class="p">%</tspan></text>
<text x="161" y="44.0" fill="#8e2828">18.58</text>
<text x="161" y="54.0" fill="#4540aa">16.29</text>
<text x="161" y="64.0" fill="#3f8b41">15.70</text>
<rect x="105" y="95.00" width="7" height="26.00" fill="#fdfdf8" fill-opacity="0.85"/>
<rect x="111" y="92.00" width="7" height="29.00" fill="#fdfdf8" fill-opacity="0.85"/>
<rect x="117" y="96.00" width="7" height="25.00" fill="#fdfdf8" fill-opacity="0.85"/>
<rect x="123" y="87.00" width="7" height="34.00" fill="#fdfdf8" fill-opacity="0.85"/>
<rect x="106" y="96.00" width="5" height="24.00" fill="#3d6fa7"/>
<rect x="112" y="93.00" width="5" height="27.00" fill="#993a3a"/>
<rect x="118" y="97.00" width="5" height="23.00" fill="#5652b1"/>
<rect x="124" y="88.00" width="5" height="32.00" fill="#58995a"/>
<rect x="104" y="121" width="25" height="1" fill="#777"/>
<rect x="104" y="110" width="1" height="1" fill="#444"/>
<rect x="104" y="100" width="1" height="1" fill="#444"/>
<rect x="104" y="90" width="1" height="1" fill="#444"/>
<rect x="104" y="80" width="1" height="1" fill="#444"/>
<text x="131.9" y="90.0" fill="#2a609f">16.44<tspan fill="#151515" dx="0.9" class="p">%</tspan></text>
<text x="131.9" y="100.0" fill="#8e2828">16.70</text>
<text x="131.9" y="110.0" fill="#4540aa">16.33</text>
<text x="131.9" y="120.0" fill="#3f8b41">17.20</text>
<rect x="256" y="65.00" width="7" height="26.00" fill="#fdfdf8" fill-opacity="0.85"/>
<rect x="257" y="66.00" width="5" height="24.00" fill="#3d6fa7"/>
<rect x="255" y="91" width="7" height="1" fill="#777"/>
<rect x="255" y="80" width="1" height="1" fill="#444"/>
<rect x="255" y="70" width="1" height="1" fill="#444"/>
<rect x="255" y="60" width="1" height="1" fill="#444"/>
<text x="265" y="90.0" fill="#2a609f">16.43<tspan fill="#151515" dx="0.9" class="p">%</tspan></text>
<rect x="187" y="103.00" width="7" height="32.00" fill="#fdfdf8" fill-opacity="0.85"/>
<rect x="188" y="104.00" width="5" height="30.00" fill="#3d6fa7"/>
<rect x="186" y="135" width="7" height="1" fill="#777"/>
<rect x="186" y="124" width="1" height="1" fill="#444"/>
<rect x="186" y="114" width="1" height="1" fill="#444"/>
<rect x="186" y="104" width="1" height="1" fill="#444"/>
<text x="196" y="133.0" fill="#2a609f">16.96<tspan fill="#151515" dx="0.9" class="p">%</tspan></text>
<rect x="141" y="166.00" width="7" height="38.00" fill="#fdfdf8" fill-opacity="0.85"/>
<rect x="142" y="167.00" width="5" height="36.00" fill="#3d6fa7"/>
<rect x="140" y="204" width="7" height="1" fill="#777"/>
<rect x="140" y="193" width="1" height="1" fill="#444"/>
<rect x="140" y="183" width="1" height="1" fill="#444"/>
<rect x="140" y="173" width="1" height="1" fill="#444"/>
<rect x="140" y="163" width="1" height="1" fill="#444"/>
<text x="150" y="203.0" fill="#2a609f">17.61<tspan fill="#151515" dx="-1.1" class="p">%</tspan></text>
<rect x="205" y="183.00" width="7" height="38.00" fill="#fdfdf8" fill-opacity="0.85"/>
<rect x="206" y="184.00" width="5" height="36.00" fill="#3d6fa7"/>
<rect x="204" y="221" width="7" height="1" fill="#777"/>
<rect x="204" y="210" width="1" height="1" fill="#444"/>
<rect x="204" y="200" width="1" height="1" fill="#444"/>
<rect x="204" y="190" width="1" height="1" fill="#444"/>
<rect x="204" y="180" width="1" height="1" fill="#444"/>
<text x="214" y="220.0" fill="#2a609f">17.62<tspan fill="#151515" dx="0.9" class="p">%</tspan></text>
<rect x="99" y="193.00" width="7" height="35.00" fill="#fdfdf8" fill-opacity="0.85"/>
<rect x="105" y="203.00" width="7" height="25.00" fill="#fdfdf8" fill-opacity="0.85"/>
<rect x="111" y="194.00" width="7" height="34.00" fill="#fdfdf8" fill-opacity="0.85"/>
<rect x="117" y="204.00" width="7" height="24.00" fill="#fdfdf8" fill-opacity="0.85"/>
<rect x="100" y="194.00" width="5" height="33.00" fill="#3d6fa7"/>
<rect x="106" y="204.00" width="5" height="23.00" fill="#993a3a"/>
<rect x="112" y="195.00" width="5" height="32.00" fill="#5652b1"/>
<rect x="118" y="205.00" width="5" height="22.00" fill="#58995a"/>
<rect x="98" y="228" width="25" height="1" fill="#777"/>
<rect x="98" y="217" width="1" height="1" fill="#444"/>
<rect x="98" y="207" width="1" height="1" fill="#444"/>
<rect x="98" y="197" width="1" height="1" fill="#444"/>
<rect x="98" y="187" width="1" height="1" fill="#444"/>
<text x="117" y="241.0" fill="#2a609f">17.25<tspan fill="#151515" dx="0.9" class="p">%</tspan></text>
<text x="117" y="251.0" fill="#8e2828">16.27</text>
<text x="117" y="261.0" fill="#4540aa">17.19</text>
<text x="117" y="271.0" fill="#3f8b41">16.20</text>
<rect x="186" y="263.00" width="7" height="40.00" fill="#fdfdf8" fill-opacity="0.85"/>
<rect x="192" y="270.00" width="7" height="33.00" fill="#fdfdf8" fill-opacity="0.85"/>
<rect x="187" y="264.00" width="5" height="38.00" fill="#3d6fa7"/>
<rect x="193" y="271.00" width="5" height="31.00" fill="#58995a"/>
<rect x="185" y="303" width="13" height="1" fill="#777"/>
<rect x="185" y="292" width="1" height="1" fill="#444"/>
<rect x="185" y="282" width="1" height="1" fill="#444"/>
<rect x="185" y="272" width="1" height="1" fill="#444"/>
<rect x="185" y="262" width="1" height="1" fill="#444"/>
<text x="201" y="292.0" fill="#2a609f">17.77<tspan fill="#151515" dx="0.9" class="p">%</tspan></text>
<text x="201" y="302.0" fill="#3f8b41">17.09</text>
<rect x="275" y="203.00" width="7" height="38.00" fill="#fdfdf8" fill-opacity="0.85"/>
<rect x="281" y="204.00" width="7" height="37.00" fill="#fdfdf8" fill-opacity="0.85"/>
<rect x="287" y="192.00" width="7" height="49.00" fill="#fdfdf8" fill-opacity="0.85"/>
<rect x="293" y="214.00" width="7" height="27.00" fill="#fdfdf8" fill-opacity="0.85"/>
<rect x="276" y="204.00" width="5" height="36.00" fill="#3d6fa7"/>
<rect x="282" y="205.00" width="5" height="35.00" fill="#993a3a"/>
<rect x="288" y="193.00" width="5" height="47.00" fill="#5652b1"/>
<rect x="294" y="215.00" width="5" height="25.00" fill="#58995a"/>
<rect x="274" y="241" width="25" height="1" fill="#777"/>
<rect x="274" y="230" width="1" height="1" fill="#444"/>
<rect x="274" y="220" width="1" height="1" fill="#444"/>
<rect x="274" y="210" width="1" height="1" fill="#444"/>
<rect x="274" y="200" width="1" height="1" fill="#444"/>
<rect x="274" y="190" width="1" height="1" fill="#444"/>
<text x="302" y="210.0" fill="#2a609f">17.61<tspan fill="#151515" dx="-1.1" class="p">%</tspan></text>
<text x="302" y="220.0" fill="#8e2828">17.46</text>
<text x="302" y="230.0" fill="#4540aa">18.70</text>
<text x="302" y="240.0" fill="#3f8b41">16.51</text>
<rect x="375" y="224.00" width="7" height="23.00" fill="#fdfdf8" fill-opacity="0.85"/>
<rect x="376" y="225.00" width="5" height="21.00" fill="#3d6fa7"/>
<rect x="374" y="247" width="7" height="1" fill="#777"/>
<rect x="374" y="236" width="1" height="1" fill="#444"/>
<rect x="374" y="226" width="1" height="1" fill="#444"/>
<rect x="374" y="216" width="1" height="1" fill="#444"/>
<text x="384" y="246.0" fill="#2a609f">16.13<tspan fill="#151515" dx="0.9" class="p">%</tspan></text>
<rect x="394" y="268.00" width="7" height="36.00" fill="#fdfdf8" fill-opacity="0.85"/>
<rect x="395" y="269.00" width="5" height="34.00" fill="#3d6fa7"/>
<rect x="393" y="304" width="7" height="1" fill="#777"/>
<rect x="393" y="293" width="1" height="1" fill="#444"/>
<rect x="393" y="283" width="1" height="1" fill="#444"/>
<rect x="393" y="273" width="1" height="1" fill="#444"/>
<rect x="393" y="263" width="1" height="1" fill="#444"/>
<text x="403" y="303.0" fill="#2a609f">17.35<tspan fill="#151515" dx="0.9" class="p">%</tspan></text>
<rect x="358" y="335.00" width="7" height="33.00" fill="#fdfdf8" fill-opacity="0.85"/>
<rect x="364" y="334.00" width="7" height="34.00" fill="#fdfdf8" fill-opacity="0.85"/>
<rect x="370" y="330.00" width="7" height="38.00" fill="#fdfdf8" fill-opacity="0.85"/>
<rect x="376" y="341.00" width="7" height="27.00" fill="#fdfdf8" fill-opacity="0.85"/>
<rect x="359" y="336.00" width="5" height="31.00" fill="#3d6fa7"/>
<rect x="365" y="335.00" width="5" height="32.00" fill="#993a3a"/>
<rect x="371" y="331.00" width="5" height="36.00" fill="#5652b1"/>
<rect x="377" y="342.00" width="5" height="25.00" fill="#58995a"/>
<rect x="357" y="368" width="25" height="1" fill="#777"/>
<rect x="357" y="357" width="1" height="1" fill="#444"/>
<rect x="357" y="347" width="1" height="1" fill="#444"/>
<rect x="357" y="337" width="1" height="1" fill="#444"/>
<rect x="357" y="327" width="1" height="1" fill="#444"/>
<text x="385" y="336.0" fill="#2a609f">17.05<tspan fill="#151515" dx="0.9" class="p">%</tspan></text>
<text x="385" y="346.0" fill="#8e2828">17.24</text>
<text x="385" y="356.0" fill="#4540aa">17.62</text>
<text x="385" y="366.0" fill="#3f8b41">16.54</text>
<rect x="430" y="80.00" width="7" height="26.00" fill="#fdfdf8" fill-opacity="0.85"/>
<rect x="436" y="83.00" width="7" height="23.00" fill="#fdfdf8" fill-opacity="0.85"/>
<rect x="431" y="81.00" width="5" height="24.00" fill="#3d6fa7"/>
<rect x="437" y="84.00" width="5" height="21.00" fill="#58995a"/>
<rect x="429" y="106" width="13" height="1" fill="#777"/>
<rect x="429" y="95" width="1" height="1" fill="#444"/>
<rect x="429" y="85" width="1" height="1" fill="#444"/>
<rect x="429" y="75" width="1" height="1" fill="#444"/>
<text x="428" y="118.0" fill="#2a609f">16.45<tspan fill="#151515" dx="0.9" class="p">%</tspan></text>
<text x="428" y="128.0" fill="#3f8b41">16.05</text>
<rect x="439" y="163.00" width="7" height="17.00" fill="#fdfdf8" fill-opacity="0.85"/>
<rect x="440" y="164.00" width="5" height="15.00" fill="#3d6fa7"/>
<rect x="438" y="180" width="7" height="1" fill="#777"/>
<rect x="438" y="169" width="1" height="1" fill="#444"/>
<rect x="438" y="159" width="1" height="1" fill="#444"/>
<text x="448" y="179.0" fill="#2a609f">15.50<tspan fill="#151515" dx="0.9" class="p">%</tspan></text>
<rect x="454" y="222.00" width="7" height="36.00" fill="#fdfdf8" fill-opacity="0.85"/>
<rect x="460" y="229.00" width="7" height="29.00" fill="#fdfdf8" fill-opacity="0.85"/>
<rect x="455" y="223.00" width="5" height="34.00" fill="#3d6fa7"/>
<rect x="461" y="230.00" width="5" height="27.00" fill="#58995a"/>
<rect x="453" y="258" width="13" height="1" fill="#777"/>
<rect x="453" y="247" width="1" height="1" fill="#444"/>
<rect x="453" y="237" width="1" height="1" fill="#444"/>
<rect x="453" y="227" width="1" height="1" fill="#444"/>
<rect x="453" y="217" width="1" height="1" fill="#444"/>
<text x="469" y="246.0" fill="#2a609f">17.38<tspan fill="#151515" dx="0.9" class="p">%</tspan></text>
<text x="469" y="256.0" fill="#3f8b41">16.70</text>
<rect x="458" y="281.00" width="7" height="27.00" fill="#fdfdf8" fill-opacity="0.85"/>
<rect x="459" y="282.00" width="5" height="25.00" fill="#3d6fa7"/>
<rect x="457" y="308" width="7" height="1" fill="#777"/>
<rect x="457" y="297" width="1" height="1" fill="#444"/>
<rect x="457" y="287" width="1" height="1" fill="#444"/>
<rect x="457" y="277" width="1" height="1" fill="#444"/>
<text x="467" y="307.0" fill="#2a609f">16.52<tspan fill="#151515" dx="0.9" class="p">%</tspan></text>
<rect x="469" y="349.00" width="7" height="20.00" fill="#fdfdf8" fill-opacity="0.85"/>
<rect x="470" y="350.00" width="5" height="18.00" fill="#3d6fa7"/>
<rect x="468" y="369" width="7" height="1" fill="#777"/>
<rect x="468" y="358" width="1" height="1" fill="#444"/>
<rect x="468" y="348" width="1" height="1" fill="#444"/>
<text x="478" y="368.0" fill="#2a609f">15.75<tspan fill="#151515" dx="0.9" class="p">%</tspan></text>
<rect x="492" y="126.00" width="7" height="27.00" fill="#fdfdf8" fill-opacity="0.85"/>
<rect x="498" y="105.00" width="7" height="48.00" fill="#fdfdf8" fill-opacity="0.85"/>
<rect x="493" y="127.00" width="5" height="25.00" fill="#3d6fa7"/>
<rect x="499" y="106.00" width="5" height="46.00" fill="#58995a"/>
<rect x="491" y="153" width="13" height="1" fill="#777"/>
<rect x="491" y="142" width="1" height="1" fill="#444"/>
<rect x="491" y="132" width="1" height="1" fill="#444"/>
<rect x="491" y="122" width="1" height="1" fill="#444"/>
<rect x="491" y="112" width="1" height="1" fill="#444"/>
<rect x="491" y="102" width="1" height="1" fill="#444"/>
<text x="507" y="142.0" fill="#2a609f">16.48<tspan fill="#151515" dx="0.9" class="p">%</tspan></text>
<text x="507" y="152.0" fill="#3f8b41">18.64</text>
<rect x="506" y="174.00" width="7" height="39.00" fill="#fdfdf8" fill-opacity="0.85"/>
<rect x="512" y="187.00" width="7" height="26.00" fill="#fdfdf8" fill-opacity="0.85"/>
<rect x="507" y="175.00" width="5" height="37.00" fill="#3d6fa7"/>
<rect x="513" y="188.00" width="5" height="24.00" fill="#58995a"/>
<rect x="505" y="213" width="13" height="1" fill="#777"/>
<rect x="505" y="202" width="1" height="1" fill="#444"/>
<rect x="505" y="192" width="1" height="1" fill="#444"/>
<rect x="505" y="182" width="1" height="1" fill="#444"/>
<rect x="505" y="172" width="1" height="1" fill="#444"/>
<text x="505" y="225.0" fill="#2a609f">17.67<tspan fill="#151515" dx="0.9" class="p">%</tspan></text>
<text x="505" y="235.0" fill="#3f8b41">16.35</text>
<rect x="547" y="184.00" width="7" height="34.00" fill="#fdfdf8" fill-opacity="0.85"/>
<rect x="553" y="185.00" width="7" height="33.00" fill="#fdfdf8" fill-opacity="0.85"/>
<rect x="548" y="185.00" width="5" height="32.00" fill="#3d6fa7"/>
<rect x="554" y="186.00" width="5" height="31.00" fill="#58995a"/>
<rect x="546" y="218" width="13" height="1" fill="#777"/>
<rect x="546" y="207" width="1" height="1" fill="#444"/>
<rect x="546" y="197" width="1" height="1" fill="#444"/>
<rect x="546" y="187" width="1" height="1" fill="#444"/>
<rect x="546" y="177" width="1" height="1" fill="#444"/>
<text x="562" y="206.0" fill="#2a609f">17.16<tspan fill="#151515" dx="0.9" class="p">%</tspan></text>
<text x="562" y="216.0" fill="#3f8b41">17.08</text>
<rect x="556" y="131.00" width="7" height="33.00" fill="#fdfdf8" fill-opacity="0.85"/>
<rect x="557" y="132.00" width="5" height="31.00" fill="#3d6fa7"/>
<rect x="555" y="164" width="7" height="1" fill="#777"/>
<rect x="555" y="153" width="1" height="1" fill="#444"/>
<rect x="555" y="143" width="1" height="1" fill="#444"/>
<rect x="555" y="133" width="1" height="1" fill="#444"/>
<rect x="555" y="123" width="1" height="1" fill="#444"/>
<text x="565" y="147.0" fill="#2a609f">17.09<tspan fill="#151515" dx="0.9" class="p">%</tspan></text>
<rect x="603" y="191.00" width="7" height="5.00" fill="#fdfdf8" fill-opacity="0.85"/>
<rect x="609" y="168.00" width="7" height="28.00" fill="#fdfdf8" fill-opacity="0.85"/>
<rect x="604" y="192.00" width="5" height="3.00" fill="#3d6fa7"/>
<rect x="610" y="169.00" width="5" height="26.00" fill="#58995a"/>
<rect x="602" y="196" width="13" height="1" fill="#777"/>
<rect x="602" y="185" width="1" height="1" fill="#444"/>
<rect x="602" y="175" width="1" height="1" fill="#444"/>
<rect x="602" y="165" width="1" height="1" fill="#444"/>
<text x="618" y="176.0" fill="#2a609f">14.27<tspan fill="#151515" dx="0.9" class="p">%</tspan></text>
<text x="618" y="186.0" fill="#3f8b41">16.56</text>
<rect x="574" y="229.00" width="7" height="24.00" fill="#fdfdf8" fill-opacity="0.85"/>
<rect x="575" y="230.00" width="5" height="22.00" fill="#3d6fa7"/>
<rect x="573" y="253" width="7" height="1" fill="#777"/>
<rect x="573" y="242" width="1" height="1" fill="#444"/>
<rect x="573" y="232" width="1" height="1" fill="#444"/>
<rect x="573" y="222" width="1" height="1" fill="#444"/>
<text x="583" y="241.0" fill="#2a609f">16.20<tspan fill="#151515" dx="0.9" class="p">%</tspan></text>
<rect x="535" y="253.00" width="7" height="29.00" fill="#fdfdf8" fill-opacity="0.85"/>
<rect x="541" y="251.00" width="7" height="31.00" fill="#fdfdf8" fill-opacity="0.85"/>
<rect x="536" y="254.00" width="5" height="27.00" fill="#3d6fa7"/>
<rect x="542" y="252.00" width="5" height="29.00" fill="#58995a"/>
<rect x="534" y="282" width="13" height="1" fill="#777"/>
<rect x="534" y="271" width="1" height="1" fill="#444"/>
<rect x="534" y="261" width="1" height="1" fill="#444"/>
<rect x="534" y="251" width="1" height="1" fill="#444"/>
<text x="550" y="270.0" fill="#2a609f">16.72<tspan fill="#151515" dx="0.9" class="p">%</tspan></text>
<text x="550" y="280.0" fill="#3f8b41">16.91</text>
<rect x="543" y="302.00" width="7" height="26.00" fill="#fdfdf8" fill-opacity="0.85"/>
<rect x="544" y="303.00" width="5" height="24.00" fill="#3d6fa7"/>
<rect x="542" y="328" width="7" height="1" fill="#777"/>
<rect x="542" y="317" width="1" height="1" fill="#444"/>
<rect x="542" y="307" width="1" height="1" fill="#444"/>
<rect x="542" y="297" width="1" height="1" fill="#444"/>
<text x="552" y="327.0" fill="#2a609f">16.39<tspan fill="#151515" dx="0.9" class="p">%</tspan></text>
<rect x="596" y="316.00" width="7" height="27.00" fill="#fdfdf8" fill-opacity="0.85"/>
<rect x="602" y="317.00" width="7" height="26.00" fill="#fdfdf8" fill-opacity="0.85"/>
<rect x="597" y="317.00" width="5" height="25.00" fill="#3d6fa7"/>
<rect x="603" y="318.00" width="5" height="24.00" fill="#58995a"/>
<rect x="595" y="343" width="13" height="1" fill="#777"/>
<rect x="595" y="332" width="1" height="1" fill="#444"/>
<rect x="595" y="322" width="1" height="1" fill="#444"/>
<rect x="595" y="312" width="1" height="1" fill="#444"/>
<text x="611" y="332.0" fill="#2a609f">16.51<tspan fill="#151515" dx="-1.1" class="p">%</tspan></text>
<text x="611" y="342.0" fill="#3f8b41">16.36</text>
<rect x="636" y="283.00" width="7" height="28.00" fill="#fdfdf8" fill-opacity="0.85"/>
<rect x="642" y="271.00" width="7" height="40.00" fill="#fdfdf8" fill-opacity="0.85"/>
<rect x="637" y="284.00" width="5" height="26.00" fill="#3d6fa7"/>
<rect x="643" y="272.00" width="5" height="38.00" fill="#58995a"/>
<rect x="635" y="311" width="13" height="1" fill="#777"/>
<rect x="635" y="300" width="1" height="1" fill="#444"/>
<rect x="635" y="290" width="1" height="1" fill="#444"/>
<rect x="635" y="280" width="1" height="1" fill="#444"/>
<rect x="635" y="270" width="1" height="1" fill="#444"/>
<text x="651" y="300.0" fill="#2a609f">16.65<tspan fill="#151515" dx="0.9" class="p">%</tspan></text>
<text x="651" y="310.0" fill="#3f8b41">17.81</text>
<rect x="665" y="255.00" width="7" height="26.00" fill="#fdfdf8" fill-opacity="0.85"/>
<rect x="671" y="246.00" width="7" height="35.00" fill="#fdfdf8" fill-opacity="0.85"/>
<rect x="666" y="256.00" width="5" height="24.00" fill="#3d6fa7"/>
<rect x="672" y="247.00" width="5" height="33.00" fill="#58995a"/>
<rect x="664" y="281" width="13" height="1" fill="#777"/>
<rect x="664" y="270" width="1" height="1" fill="#444"/>
<rect x="664" y="260" width="1" height="1" fill="#444"/>
<rect x="664" y="250" width="1" height="1" fill="#444"/>
<rect x="664" y="240" width="1" height="1" fill="#444"/>
<text x="680" y="270.0" fill="#2a609f">16.43<tspan fill="#151515" dx="0.9" class="p">%</tspan></text>
<text x="680" y="280.0" fill="#3f8b41">17.25</text>
<rect x="630" y="204.00" width="7" height="31.00" fill="#fdfdf8" fill-opacity="0.85"/>
<rect x="636" y="206.00" width="7" height="29.00" fill="#fdfdf8" fill-opacity="0.85"/>
<rect x="631" y="205.00" width="5" height="29.00" fill="#3d6fa7"/>
<rect x="637" y="207.00" width="5" height="27.00" fill="#58995a"/>
<rect x="629" y="235" width="13" height="1" fill="#777"/>
<rect x="629" y="224" width="1" height="1" fill="#444"/>
<rect x="629" y="214" width="1" height="1" fill="#444"/>
<rect x="629" y="204" width="1" height="1" fill="#444"/>
<text x="645" y="224.0" fill="#2a609f">16.85<tspan fill="#151515" dx="0.9" class="p">%</tspan></text>
<text x="645" y="234.0" fill="#3f8b41">16.74</text>
<rect x="675" y="185.00" width="7" height="23.00" fill="#fdfdf8" fill-opacity="0.85"/>
<rect x="681" y="185.00" width="7" height="23.00" fill="#fdfdf8" fill-opacity="0.85"/>
<rect x="676" y="186.00" width="5" height="21.00" fill="#3d6fa7"/>
<rect x="682" y="186.00" width="5" height="21.00" fill="#58995a"/>
<rect x="674" y="208" width="13" height="1" fill="#777"/>
<rect x="674" y="197" width="1" height="1" fill="#444"/>
<rect x="674" y="187" width="1" height="1" fill="#444"/>
<rect x="674" y="177" width="1" height="1" fill="#444"/>
<text x="690" y="197.0" fill="#2a609f">16.05<tspan fill="#151515" dx="0.9" class="p">%</tspan></text>
<text x="690" y="207.0" fill="#3f8b41">16.09</text>
<rect x="698" y="166.00" width="7" height="14.00" fill="#fdfdf8" fill-opacity="0.85"/>
<rect x="699" y="167.00" width="5" height="12.00" fill="#58995a"/>
<rect x="697" y="180" width="7" height="1" fill="#777"/>
<rect x="697" y="169" width="1" height="1" fill="#444"/>
<rect x="697" y="159" width="1" height="1" fill="#444"/>
<text x="707" y="179.0" fill="#3f8b41">15.24<tspan fill="#151515" dx="0.9" class="p">%</tspan></text>
<rect x="647" y="105.00" width="7" height="36.00" fill="#fdfdf8" fill-opacity="0.85"/>
<rect x="653" y="120.00" width="7" height="21.00" fill="#fdfdf8" fill-opacity="0.85"/>
<rect x="659" y="125.00" width="7" height="16.00" fill="#fdfdf8" fill-opacity="0.85"/>
<rect x="648" y="106.00" width="5" height="34.00" fill="#3d6fa7"/>
<rect x="654" y="121.00" width="5" height="19.00" fill="#993a3a"/>
<rect x="660" y="126.00" width="5" height="14.00" fill="#58995a"/>
<rect x="646" y="141" width="19" height="1" fill="#777"/>
<rect x="646" y="130" width="1" height="1" fill="#444"/>
<rect x="646" y="120" width="1" height="1" fill="#444"/>
<rect x="646" y="110" width="1" height="1" fill="#444"/>
<rect x="646" y="100" width="1" height="1" fill="#444"/>
<text x="668" y="120.0" fill="#2a609f">17.36<tspan fill="#151515" dx="0.9" class="p">%</tspan></text>
<text x="668" y="130.0" fill="#8e2828">15.95</text>
<text x="668" y="140.0" fill="#3f8b41">15.37</text>
<rect x="722" y="110.00" width="7" height="20.00" fill="#fdfdf8" fill-opacity="0.85"/>
<rect x="723" y="111.00" width="5" height="18.00" fill="#58995a"/>
<rect x="721" y="130" width="7" height="1" fill="#777"/>
<rect x="721" y="119" width="1" height="1" fill="#444"/>
<rect x="721" y="109" width="1" height="1" fill="#444"/>
<text x="731" y="129.0" fill="#3f8b41">15.75<tspan fill="#151515" dx="0.9" class="p">%</tspan></text>
<rect x="637" y="365.00" width="7" height="40.00" fill="#fdfdf8" fill-opacity="0.85"/>
<rect x="643" y="378.00" width="7" height="27.00" fill="#fdfdf8" fill-opacity="0.85"/>
<rect x="649" y="367.00" width="7" height="38.00" fill="#fdfdf8" fill-opacity="0.85"/>
<rect x="655" y="380.00" width="7" height="25.00" fill="#fdfdf8" fill-opacity="0.85"/>
<rect x="638" y="366.00" width="5" height="38.00" fill="#3d6fa7"/>
<rect x="644" y="379.00" width="5" height="25.00" fill="#993a3a"/>
<rect x="650" y="368.00" width="5" height="36.00" fill="#5652b1"/>
<rect x="656" y="381.00" width="5" height="23.00" fill="#58995a"/>
<rect x="636" y="405" width="25" height="1" fill="#777"/>
<rect x="636" y="394" width="1" height="1" fill="#444"/>
<rect x="636" y="384" width="1" height="1" fill="#444"/>
<rect x="636" y="374" width="1" height="1" fill="#444"/>
<rect x="636" y="364" width="1" height="1" fill="#444"/>
<text x="664" y="374.0" fill="#2a609f">17.78<tspan fill="#151515" dx="0.9" class="p">%</tspan></text>
<text x="664" y="384.0" fill="#8e2828">16.53</text>
<text x="664" y="394.0" fill="#4540aa">17.65</text>
<text x="664" y="404.0" fill="#3f8b41">16.29</text>
<rect x="585" y="437.00" width="7" height="19.00" fill="#fdfdf8" fill-opacity="0.85"/>
<rect x="586" y="438.00" width="5" height="17.00" fill="#58995a"/>
<rect x="584" y="456" width="7" height="1" fill="#777"/>
<rect x="584" y="445" width="1" height="1" fill="#444"/>
<rect x="584" y="435" width="1" height="1" fill="#444"/>
<text x="594" y="455.0" fill="#3f8b41">15.70<tspan fill="#151515" dx="0.9" class="p">%</tspan></text>
<line x1="80" x2="246" y1="378.5" y2="378.5" stroke="#cfcfcf" stroke-width="1" stroke-dasharray="1 1"/>
<line x1="80" x2="246" y1="397.5" y2="397.5" stroke="#cfcfcf" stroke-width="1" stroke-dasharray="1 1"/>
<line x1="80" x2="246" y1="416.5" y2="416.5" stroke="#cfcfcf" stroke-width="1" stroke-dasharray="1 1"/>
<line x1="80" x2="246" y1="435.5" y2="435.5" stroke="#cfcfcf" stroke-width="1" stroke-dasharray="1 1"/>
<line x1="80" x2="246" y1="454.5" y2="454.5" stroke="#cfcfcf" stroke-width="1" stroke-dasharray="1 1"/>
<rect x="81" y="382" width="12" height="12" fill="#3d6fa7"/>
<text class="lg" x="99" y="391.6">BEAUTY &#43; PERSONAL CARE</text>
<rect x="81" y="401" width="12" height="12" fill="#993a3a"/>
<text class="lg" x="99" y="410.6">FOOD &#43; DRINK</text>
<rect x="81" y="420" width="12" height="12" fill="#5652b1"/>
<text class="lg" x="99" y="429.6">HEALTHCARE &#43; FITNESS</text>
<rect x="81" y="439" width="12" height="12" fill="#58995a"/>
<text class="lg" x="99" y="448.6">TRANSPORTATION</text>
</svg>
</body></html>
